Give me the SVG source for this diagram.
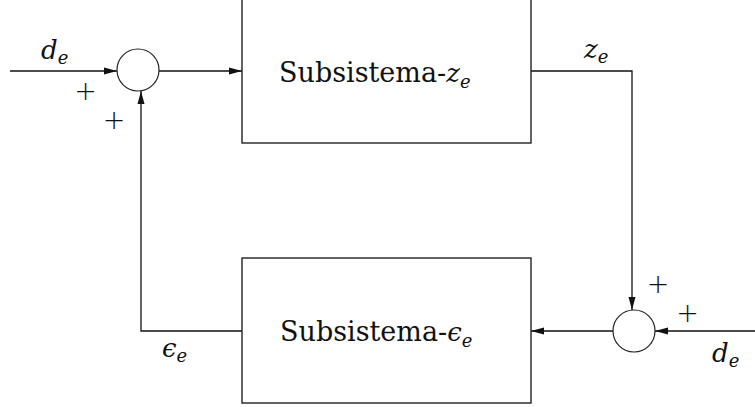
<svg xmlns="http://www.w3.org/2000/svg" width="755" height="407" viewBox="0 0 755 407">
<style>
.box{fill:#fff;stroke:#222;stroke-width:1.4}
.sum{fill:#fff;stroke:#222;stroke-width:1.2}
.ln{fill:none;stroke:#111;stroke-width:1.3}
text{font-family:'DejaVu Serif','Liberation Serif',serif;fill:#111}
.big{font-size:27px}
.m{font-size:26px;font-style:italic}
.sub{font-size:18px;font-style:italic}
.pl{font-family:'DejaVu Sans','Liberation Sans',sans-serif;font-size:27px;font-weight:200}
</style>
<defs>
<marker id="ah" markerWidth="14" markerHeight="8" refX="13" refY="4" orient="auto" markerUnits="userSpaceOnUse">
<path d="M0,0.5 L13,4 L0,7.5 Z" fill="#111"/>
</marker>
</defs>
<rect width="755" height="407" fill="#fff"/>
<g id="connectors">
<line class="ln" x1="10" y1="71" x2="117" y2="71" marker-end="url(#ah)"/>
<line class="ln" x1="159" y1="71" x2="242" y2="71" marker-end="url(#ah)"/>
<polyline class="ln" points="531,71 632,71 632,310" marker-end="url(#ah)"/>
<line class="ln" x1="755" y1="331" x2="655" y2="331" marker-end="url(#ah)"/>
<line class="ln" x1="613" y1="331" x2="531" y2="331" marker-end="url(#ah)"/>
<polyline class="ln" points="242,331 141,331 141,91" marker-end="url(#ah)"/>
</g>
<g id="subsistema-z">
<rect class="box" x="242" y="-2" width="289" height="145"/>
<text class="big" x="279" y="82">Subsistema-<tspan class="m" font-size="27">z</tspan><tspan class="sub" font-size="19" dy="6">e</tspan></text>
</g>
<g id="subsistema-eps">
<rect class="box" x="242" y="258" width="289" height="145"/>
<text class="big" x="280" y="341">Subsistema-<tspan class="m" font-size="27">ϵ</tspan><tspan class="sub" font-size="19" dy="6">e</tspan></text>
</g>
<g id="sum-top">
<circle class="sum" cx="138" cy="70" r="21"/>
</g>
<g id="sum-bottom">
<circle class="sum" cx="634" cy="331" r="21"/>
</g>
<g id="labels">
<text class="m" x="41" y="59">d<tspan class="sub" dy="5">e</tspan></text>
<text class="pl" x="85.5" y="100" text-anchor="middle">+</text>
<text class="pl" x="114" y="129" text-anchor="middle">+</text>
<text class="m" x="584" y="58">z<tspan class="sub" dy="5">e</tspan></text>
<text class="pl" x="658" y="293" text-anchor="middle">+</text>
<text class="pl" x="687.5" y="322" text-anchor="middle">+</text>
<text class="m" x="712" y="362">d<tspan class="sub" dy="5">e</tspan></text>
<text class="m" x="162" y="357">ϵ<tspan class="sub" dy="5">e</tspan></text>
</g>
</svg>
